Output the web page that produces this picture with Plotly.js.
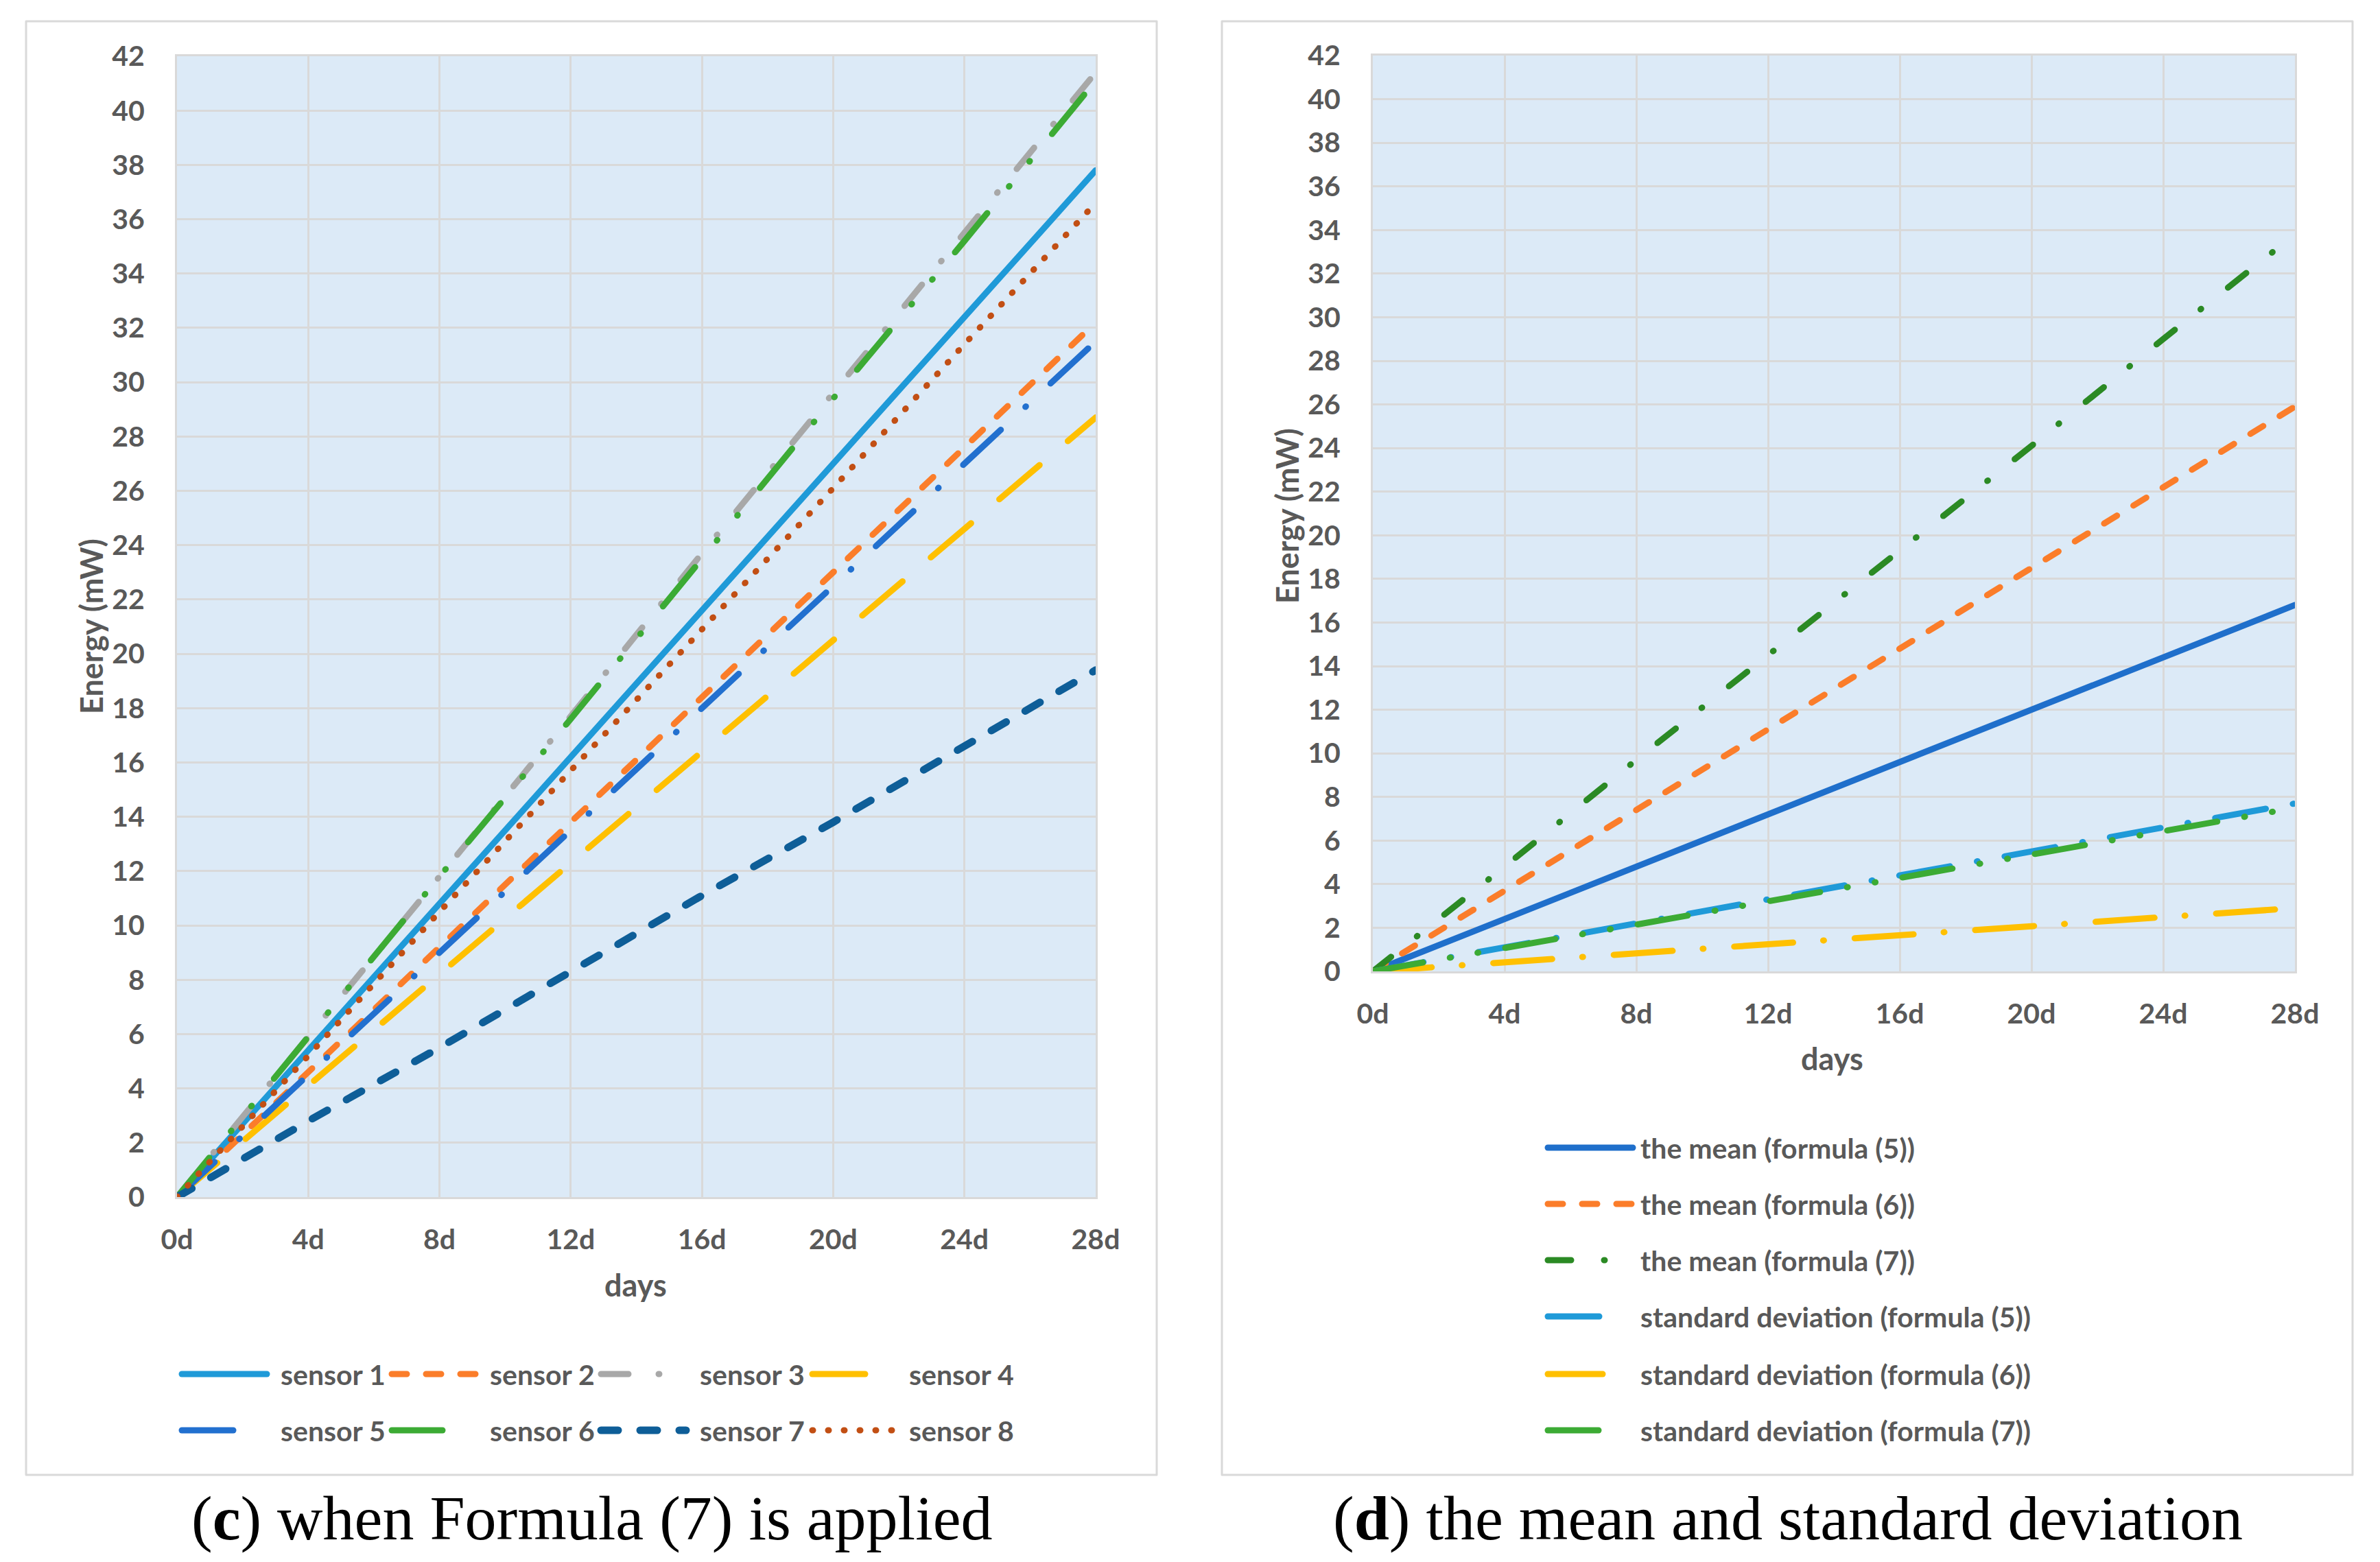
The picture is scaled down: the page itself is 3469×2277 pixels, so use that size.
<!DOCTYPE html>
<html>
<head>
<meta charset="utf-8">
<script src="https://cdn.plot.ly/plotly-3.0.1.min.js"></script>
<style>
html,body{margin:0;padding:0;background:#fff;}
.js-line, .shapelayer path { stroke-linecap: round; stroke-linejoin: round; }
</style>
</head>
<body>
<div id="chart" style="width:3469px;height:2277px;"></div>
<script>
// ---- data ----
const days = [0, 4, 8, 12, 16, 20, 24, 28];
const dayLabels = ['0d', '4d', '8d', '12d', '16d', '20d', '24d', '28d'];
const energyTicks = [0,2,4,6,8,10,12,14,16,18,20,22,24,26,28,30,32,34,36,38,40,42];

const sensorNames = ['sensor 1','sensor 2','sensor 3','sensor 4','sensor 5','sensor 6','sensor 7','sensor 8'];
const sensor1 = [0, 5.4, 10.8, 16.2, 21.6, 27.0, 32.4, 37.8];
const sensor2 = [0, 4.6, 9.2, 13.8, 18.4, 23.0, 27.6, 32.2];
const sensor3 = [0, 5.9, 11.8, 17.7, 23.7, 29.6, 35.5, 41.4];
const sensor4 = [0, 4.1, 8.2, 12.3, 16.4, 20.5, 24.6, 28.7];
const sensor5 = [0, 4.5, 9.0, 13.5, 18.0, 22.5, 27.0, 31.5];
const sensor6 = [0, 5.9, 11.8, 17.6, 23.5, 29.4, 35.2, 41.1];
const sensor7 = [0, 2.8, 5.5, 8.3, 11.1, 13.8, 16.6, 19.4];
const sensor8 = [0, 5.2, 10.5, 15.7, 20.9, 26.1, 31.4, 36.6];

const statNames = ['the mean (formula (5))','the mean (formula (6))','the mean (formula (7))',
  'standard deviation (formula (5))','standard deviation (formula (6))','standard deviation (formula (7))'];
const mean5 = [0, 2.4, 4.8, 7.2, 9.6, 12.0, 14.4, 16.8];
const mean6 = [0, 3.7, 7.4, 11.1, 14.8, 18.5, 22.2, 25.9];
const mean7 = [0, 4.8, 9.7, 14.5, 19.3, 24.1, 29.0, 33.8];
const sd5 = [0, 1.1, 2.2, 3.3, 4.4, 5.5, 6.6, 7.7];
const sd6 = [0, 0.41, 0.83, 1.24, 1.66, 2.07, 2.49, 2.9];
const sd7 = [0, 1.07, 2.14, 3.2, 4.3, 5.35, 6.4, 7.5];

// ---- styles ----
const W = 3469, H = 2277;
const px = x => x / W;
const py = y => 1 - y / H;

const sensorSeries = [sensor1, sensor2, sensor3, sensor4, sensor5, sensor6, sensor7, sensor8];
const sensorStyle = [
  {color:'#1f9ad8', width:9, dash:'solid'},
  {color:'#fb7d2a', width:9, dash:'22px,28px'},
  {color:'#a8a8a8', width:9, dash:'40px,44px,1px,44px'},
  {color:'#ffc000', width:9, dash:'77px,54px'},
  {color:'#2270cf', width:9, dash:'75px,49px,1px,49px'},
  {color:'#3cab34', width:9, dash:'74px,50px,1px,46px,1px,51px'},
  {color:'#0e5e98', width:11, dash:'25px,32px'},
  {color:'#c24f14', width:9, dash:'1px,22px'}
];
const statSeries = [mean5, mean6, mean7, sd5, sd6, sd7];
const statStyle = [
  {color:'#1f6fcb', width:9, dash:'solid'},
  {color:'#fb7d2a', width:9, dash:'22px,28px'},
  {color:'#2b8a24', width:9, dash:'34px,48px,1px,50px'},
  {color:'#1f9ad8', width:9, dash:'75px,40px,1px,40px'},
  {color:'#ffc000', width:9, dash:'86px,44px,1px,45px'},
  {color:'#3cab34', width:9, dash:'74px,40px,1px,40px,1px,40px'}
];

const traces = [];
sensorSeries.forEach((s, i) => traces.push({
  x: days, y: s, type:'scatter', mode:'lines', name: sensorNames[i],
  line: sensorStyle[i], xaxis:'x', yaxis:'y', showlegend:false, hoverinfo:'skip'
}));
statSeries.forEach((s, i) => traces.push({
  x: days, y: s, type:'scatter', mode:'lines', name: statNames[i],
  line: statStyle[i], xaxis:'x2', yaxis:'y2', showlegend:false, hoverinfo:'skip'
}));

const tickFont = {family:'Lato, "Open Sans", sans-serif', size:41, color:'#595959', weight:'bold'};
const gridC = '#d9d9d9';
function xa(domain, anchor){
  return {domain, anchor, range:[0,28], tickvals:days, ticktext:dayLabels, tickmode:'array',
    showgrid:true, gridcolor:gridC, gridwidth:3, showline:true, mirror:true, linecolor:gridC, linewidth:3,
    zeroline:false, ticks:'', tickfont:tickFont, ticklabelstandoff:24, fixedrange:true};
}
function ya(domain, anchor){
  return {domain, anchor, range:[0,42], tickvals:energyTicks, tickmode:'array',
    showgrid:true, gridcolor:gridC, gridwidth:3, showline:true, mirror:true, linecolor:gridC, linewidth:3,
    zeroline:false, ticks:'', tickfont:tickFont, ticklabelstandoff:36, fixedrange:true};
}

const shapes = [
  {type:'rect', xref:'paper', yref:'paper', x0:px(38), x1:px(1686), y0:py(2150), y1:py(31), line:{color:'#d9d9d9', width:3}},
  {type:'rect', xref:'paper', yref:'paper', x0:px(1781), x1:px(3429), y0:py(2150), y1:py(31), line:{color:'#d9d9d9', width:3}}
];
const annotations = [];
const legFont = {family:'Lato, "Open Sans", sans-serif', size:41, color:'#595959', weight:'bold'};
const axFont = {family:'Lato, "Open Sans", sans-serif', size:45, color:'#595959', weight:'bold'};

// left legend: 4 columns x 2 rows
const legColLine = [265, 571, 876, 1184];
const legColText = [407, 712, 1018, 1323];
const legRowY = [2003, 2085];
sensorNames.forEach((n, i) => {
  const c = i % 4, r = Math.floor(i / 4);
  const st = sensorStyle[i];
  shapes.push({type:'line', xref:'paper', yref:'paper', x0:px(legColLine[c]), x1:px(legColLine[c]+124),
    y0:py(legRowY[r]), y1:py(legRowY[r]), line:{color:st.color, width:st.width, dash:st.dash}});
  annotations.push({xref:'paper', yref:'paper', x:px(legColText[c]), y:py(legRowY[r]), text:n,
    showarrow:false, xanchor:'left', yanchor:'middle', font:legFont});
});
// right legend: one column
const legRightY = [1673, 1755, 1837, 1919, 2003, 2085];
statNames.forEach((n, i) => {
  const st = statStyle[i];
  const len = i < 3 ? 124 : 80;
  shapes.push({type:'line', xref:'paper', yref:'paper', x0:px(2256), x1:px(2256+len),
    y0:py(legRightY[i]), y1:py(legRightY[i]), line:{color:st.color, width:st.width, dash:st.dash}});
  annotations.push({xref:'paper', yref:'paper', x:px(2389), y:py(legRightY[i]), text:n,
    showarrow:false, xanchor:'left', yanchor:'middle', font:legFont});
});

// axis titles
const C = {showarrow:false, xanchor:'center', yanchor:'middle', xref:'paper', yref:'paper'};
annotations.push(Object.assign({x:px(927), y:py(1873), text:'days', font:axFont}, C));
annotations.push(Object.assign({x:px(2670), y:py(1543), text:'days', font:axFont}, C));
annotations.push(Object.assign({x:px(133), y:py(913), text:'Energy (mW)', textangle:-90, font:axFont}, C));
annotations.push(Object.assign({x:px(1876), y:py(752), text:'Energy (mW)', textangle:-90, font:axFont}, C));

// captions
const capFont = {family:'"Liberation Serif", "DejaVu Serif", serif', size:92, color:'#000'};
annotations.push(Object.assign({x:px(863), y:py(2213), text:'(<b>c</b>) when Formula (7) is applied', font:capFont}, C));
annotations.push(Object.assign({x:px(2606), y:py(2213), text:'(<b>d</b>) the mean and standard deviation', font:capFont}, C));

const layout = {
  width: W, height: H,
  margin:{l:0, r:0, t:0, b:0},
  paper_bgcolor:'#ffffff', plot_bgcolor:'#dceaf7',
  showlegend:false,
  xaxis: xa([px(258), px(1597)], 'y'),
  yaxis: ya([py(1745), py(82)], 'x'),
  xaxis2: xa([px(2001), px(3345)], 'y2'),
  yaxis2: ya([py(1416), py(81)], 'x2'),
  shapes, annotations
};

Plotly.newPlot('chart', traces, layout, {staticPlot:true, displayModeBar:false});
</script>
</body>
</html>
